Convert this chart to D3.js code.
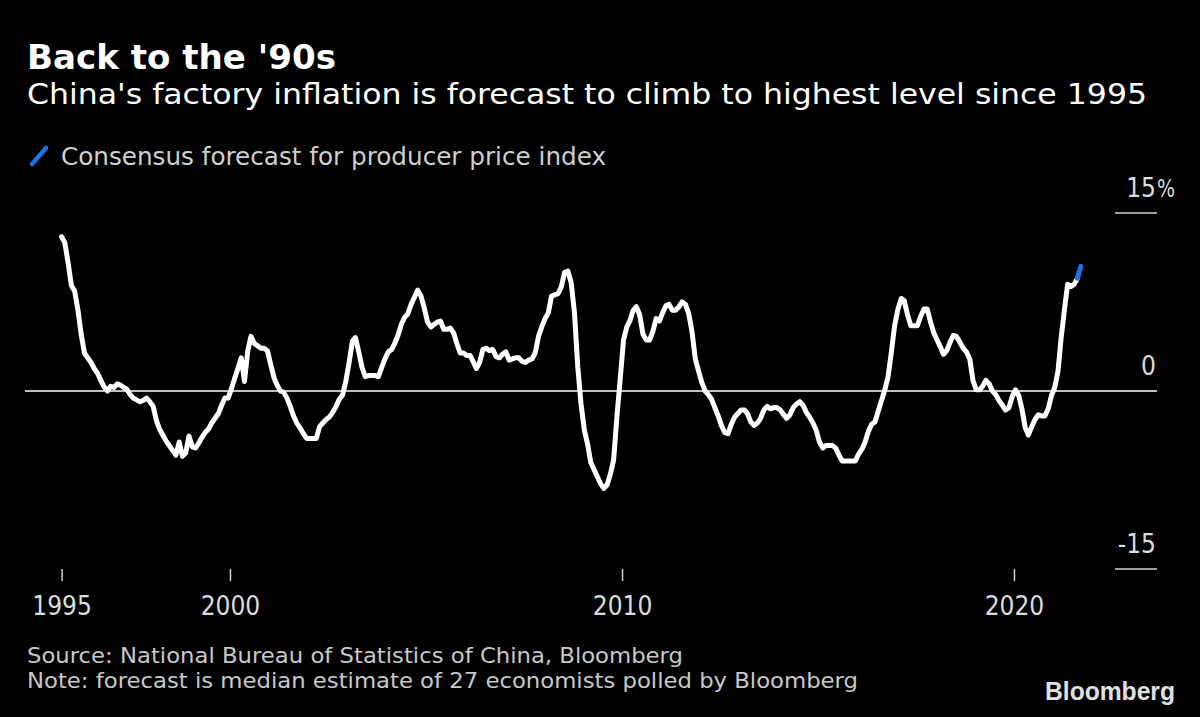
<!DOCTYPE html>
<html><head><meta charset="utf-8">
<script src="https://cdn.jsdelivr.net/npm/d3@7/dist/d3.min.js"></script>
<style>
html,body{margin:0;padding:0;background:#000;}
svg{display:block;}
</style></head><body>
<svg id="chart" width="1200" height="717"></svg>
<script>
// ---- text ----
const titleText = "Back to the '90s";
const subtitleText = "China's factory inflation is forecast to climb to highest level since 1995";
const legendLabels = ["Consensus forecast for producer price index"];
const footnotes = [
  "Source: National Bureau of Statistics of China, Bloomberg",
  "Note: forecast is median estimate of 27 economists polled by Bloomberg"
];
const brandText = "Bloomberg";

// ---- data: China PPI, % YoY, monthly from ppiStartMonth ----
const ppiStartMonth = "1995-09";
const ppi1995 = [13.0, 12.5, 10.8, 8.9];
const ppi1996 = [8.4, 6.8, 4.8, 3.2, 2.8, 2.4, 1.9, 1.5, 0.9, 0.35, 0.0, 0.4];
const ppi1997 = [0.3, 0.6, 0.5, 0.3, 0.15, -0.3, -0.6, -0.75, -0.9, -0.8, -0.6, -0.9];
const ppi1998 = [-1.3, -2.5, -3.2, -3.7, -4.2, -4.6, -5.0, -5.4, -4.3, -5.5, -5.2, -3.8];
const ppi1999 = [-4.7, -4.8, -4.4, -3.9, -3.5, -3.2, -2.7, -2.3, -1.9, -1.2, -0.6, -0.6];
const ppi2000 = [0.2, 1.1, 1.9, 2.8, 0.8, 3.4, 4.6, 4.0, 3.8, 3.6, 3.6, 3.4];
const ppi2001 = [2.2, 1.1, 0.5, 0.0, -0.1, -0.6, -1.3, -2.1, -2.7, -3.1, -3.6, -4.0];
const ppi2002 = [-4.0, -4.0, -4.0, -3.0, -2.7, -2.4, -2.2, -1.8, -1.3, -0.7, -0.35, 0.8];
const ppi2003 = [2.4, 4.2, 4.5, 3.3, 2.0, 1.2, 1.3, 1.3, 1.3, 1.2, 2.0, 2.7];
const ppi2004 = [3.3, 3.5, 4.0, 4.7, 5.6, 6.2, 6.5, 7.3, 7.9, 8.5, 8.0, 7.0];
const ppi2005 = [5.8, 5.4, 5.6, 5.8, 5.9, 5.2, 5.2, 5.3, 4.9, 4.0, 3.2, 3.2];
const ppi2006 = [3.0, 3.0, 2.5, 1.9, 2.4, 3.5, 3.6, 3.4, 3.5, 2.9, 2.8, 3.1];
const ppi2007 = [3.3, 2.6, 2.7, 2.8, 2.8, 2.5, 2.4, 2.6, 2.7, 3.2, 4.6, 5.4];
const ppi2008 = [6.1, 6.6, 8.0, 8.1, 8.2, 8.8, 10.0, 10.1, 9.1, 6.6, 2.0, -1.1];
const ppi2009 = [-3.3, -4.5, -6.0, -6.6, -7.2, -7.8, -8.2, -7.9, -7.0, -5.8, -2.1, 1.0];
const ppi2010 = [4.3, 5.4, 5.9, 6.8, 7.1, 6.4, 4.8, 4.3, 4.3, 5.0, 6.1, 5.9];
const ppi2011 = [6.6, 7.2, 7.3, 6.8, 6.8, 7.1, 7.5, 7.3, 6.5, 5.0, 2.7, 1.7];
const ppi2012 = [0.7, 0.0, -0.3, -0.7, -1.4, -2.1, -2.9, -3.5, -3.6, -2.8, -2.2, -1.9];
const ppi2013 = [-1.6, -1.6, -1.9, -2.6, -2.9, -2.7, -2.3, -1.6, -1.3, -1.5, -1.4, -1.4];
const ppi2014 = [-1.6, -2.0, -2.3, -2.0, -1.4, -1.1, -0.9, -1.2, -1.8, -2.2, -2.7, -3.3];
const ppi2015 = [-4.3, -4.8, -4.6, -4.6, -4.6, -4.8, -5.4, -5.9, -5.9, -5.9, -5.9, -5.9];
const ppi2016 = [-5.3, -4.9, -4.3, -3.4, -2.8, -2.6, -1.7, -0.8, 0.1, 1.2, 3.3, 5.5];
const ppi2017 = [6.9, 7.8, 7.6, 6.4, 5.5, 5.5, 5.5, 6.3, 6.9, 6.9, 5.8, 4.9];
const ppi2018 = [4.3, 3.7, 3.1, 3.4, 4.1, 4.7, 4.6, 4.1, 3.6, 3.3, 2.7, 0.9];
const ppi2019 = [0.1, 0.1, 0.4, 0.9, 0.6, 0.0, -0.3, -0.8, -1.2, -1.6, -1.4, -0.5];
const ppi2020 = [0.1, -0.4, -1.5, -3.1, -3.7, -3.0, -2.4, -2.0, -2.1, -2.1, -1.5, -0.4];
const ppi2021 = [0.3, 1.7, 4.4, 6.8, 9.0, 8.8, 9.0, 9.5];

// consensus forecast (joins last actual to forecast month)
const forecastMonths = ["2021-08", "2021-09"];
const forecastValues = [9.5, 10.5];

// ---- axes ----
const xTickDates = ["1995-09", "2000-01", "2010-01", "2020-01"];
const xTickLabels = ["1995", "2000", "2010", "2020"];
const yTicks = [-15, 0, 15];
const yTickLabels = ["-15", "0", "15"];
const yUnit = "%";

// ---------------------------------------------------------------
const ppiValues = [].concat(ppi1995, ppi1996, ppi1997, ppi1998, ppi1999, ppi2000,
  ppi2001, ppi2002, ppi2003, ppi2004, ppi2005, ppi2006, ppi2007, ppi2008, ppi2009,
  ppi2010, ppi2011, ppi2012, ppi2013, ppi2014, ppi2015, ppi2016, ppi2017, ppi2018,
  ppi2019, ppi2020, ppi2021);

const parseMonthMid = s => { const [y, m] = s.split("-").map(Number); return new Date(y, m - 1, 15); };
const parseMonthStart = s => { const [y, m] = s.split("-").map(Number); return new Date(y, m - 1, 1); };
const start = parseMonthMid(ppiStartMonth);
const actual = ppiValues.map((v, i) => ({ date: d3.timeMonth.offset(start, i), value: v }));
const forecast = forecastMonths.map((m, i) => ({ date: parseMonthMid(m), value: forecastValues[i] }));

const svg = d3.select("#chart");
svg.append("rect").attr("width", 1200).attr("height", 717).attr("fill", "#000");

const FONT = "'DejaVu Sans', sans-serif";
const FONT_C = "'DejaVu Sans Condensed', 'DejaVu Sans', sans-serif";

const x = d3.scaleTime()
  .domain([new Date(1995, 0, 1), new Date(2022, 0, 1)])
  .range([34, 1092.4]);
const y = d3.scaleLinear().domain([-15, 15]).range([569, 213]);

// title block
svg.append("text").attr("x", 27).attr("y", 69).text(titleText)
  .attr("font-family", FONT).attr("font-weight", "bold").attr("font-size", 33)
  .attr("textLength", 309).attr("lengthAdjust", "spacingAndGlyphs").attr("fill", "#fff");
svg.append("text").attr("x", 27).attr("y", 104).text(subtitleText)
  .attr("font-family", FONT).attr("font-size", 29)
  .attr("textLength", 1120).attr("lengthAdjust", "spacingAndGlyphs").attr("fill", "#fff");

// legend
const lg = svg.append("g");
lg.append("line").attr("x1", 32).attr("y1", 164).attr("x2", 46).attr("y2", 148)
  .attr("stroke", "#1f6fe5").attr("stroke-width", 4.5).attr("stroke-linecap", "round");
lg.append("text").attr("x", 61).attr("y", 165).text(legendLabels[0])
  .attr("font-family", FONT).attr("font-size", 24)
  .attr("textLength", 545).attr("lengthAdjust", "spacingAndGlyphs").attr("fill", "#cfcfcf");

// y axis (right side, labels above lines)
const yg = svg.append("g");
yTicks.forEach((t, i) => {
  const isZero = t === 0;
  yg.append("line")
    .attr("x1", isZero ? 25 : 1115).attr("x2", 1157)
    .attr("y1", y(t)).attr("y2", y(t))
    .attr("stroke", isZero ? "#fff" : "#cfcfcf").attr("stroke-width", 1.5);
  yg.append("text").attr("x", 1156).attr("y", y(t) - 16)
    .attr("text-anchor", "end").text(yTickLabels[i])
    .attr("font-family", FONT_C).attr("font-stretch", "condensed").attr("font-size", 26).attr("fill", "#dcdcdc");
  if (i === yTicks.length - 1) {
    yg.append("text").attr("x", 1157).attr("y", y(t) - 16).text(yUnit)
      .attr("font-family", FONT_C).attr("font-stretch", "condensed").attr("font-size", 25)
      .attr("textLength", 18).attr("lengthAdjust", "spacingAndGlyphs").attr("fill", "#dcdcdc");
  }
});

// x axis
const xTickVals = xTickDates.map((d, i) => i === 0 ? parseMonthMid(d) : parseMonthStart(d));
const xAxis = d3.axisBottom(x).tickValues(xTickVals)
  .tickFormat((d, i) => xTickLabels[i]).tickSize(12).tickPadding(16);
const xg = svg.append("g").attr("transform", `translate(0,${y(-15)})`).call(xAxis);
xg.select(".domain").remove();
xg.selectAll(".tick line").attr("stroke", "#cfcfcf").attr("stroke-width", 1.5);
xg.selectAll(".tick text").attr("fill", "#dcdcdc")
  .attr("font-family", FONT_C).attr("font-stretch", "condensed").attr("font-size", 26);

// lines
const line = d3.line().x(d => x(d.date)).y(d => y(d.value)).curve(d3.curveLinear);
svg.append("path").datum(actual).attr("d", line)
  .attr("fill", "none").attr("stroke", "#fff").attr("stroke-width", 5)
  .attr("stroke-linejoin", "round").attr("stroke-linecap", "round");
svg.append("path").datum(forecast).attr("d", line)
  .attr("fill", "none").attr("stroke", "#1f6fe5").attr("stroke-width", 5)
  .attr("stroke-linejoin", "round").attr("stroke-linecap", "round");

// footnotes
const footWidths = [656, 831];
footnotes.forEach((f, i) => {
  svg.append("text").attr("x", 27).attr("y", 663 + i * 25).text(f)
    .attr("font-family", FONT).attr("font-size", 22)
    .attr("textLength", footWidths[i]).attr("lengthAdjust", "spacingAndGlyphs")
    .attr("fill", "#c8c8c8");
});

// brand
svg.append("text").attr("x", 1045).attr("y", 700).text(brandText)
  .attr("font-family", "'Liberation Sans', Arial, sans-serif").attr("font-weight", "bold")
  .attr("font-size", 25).attr("textLength", 130).attr("lengthAdjust", "spacingAndGlyphs")
  .attr("fill", "#e0e0e0");
</script>
</body></html>
